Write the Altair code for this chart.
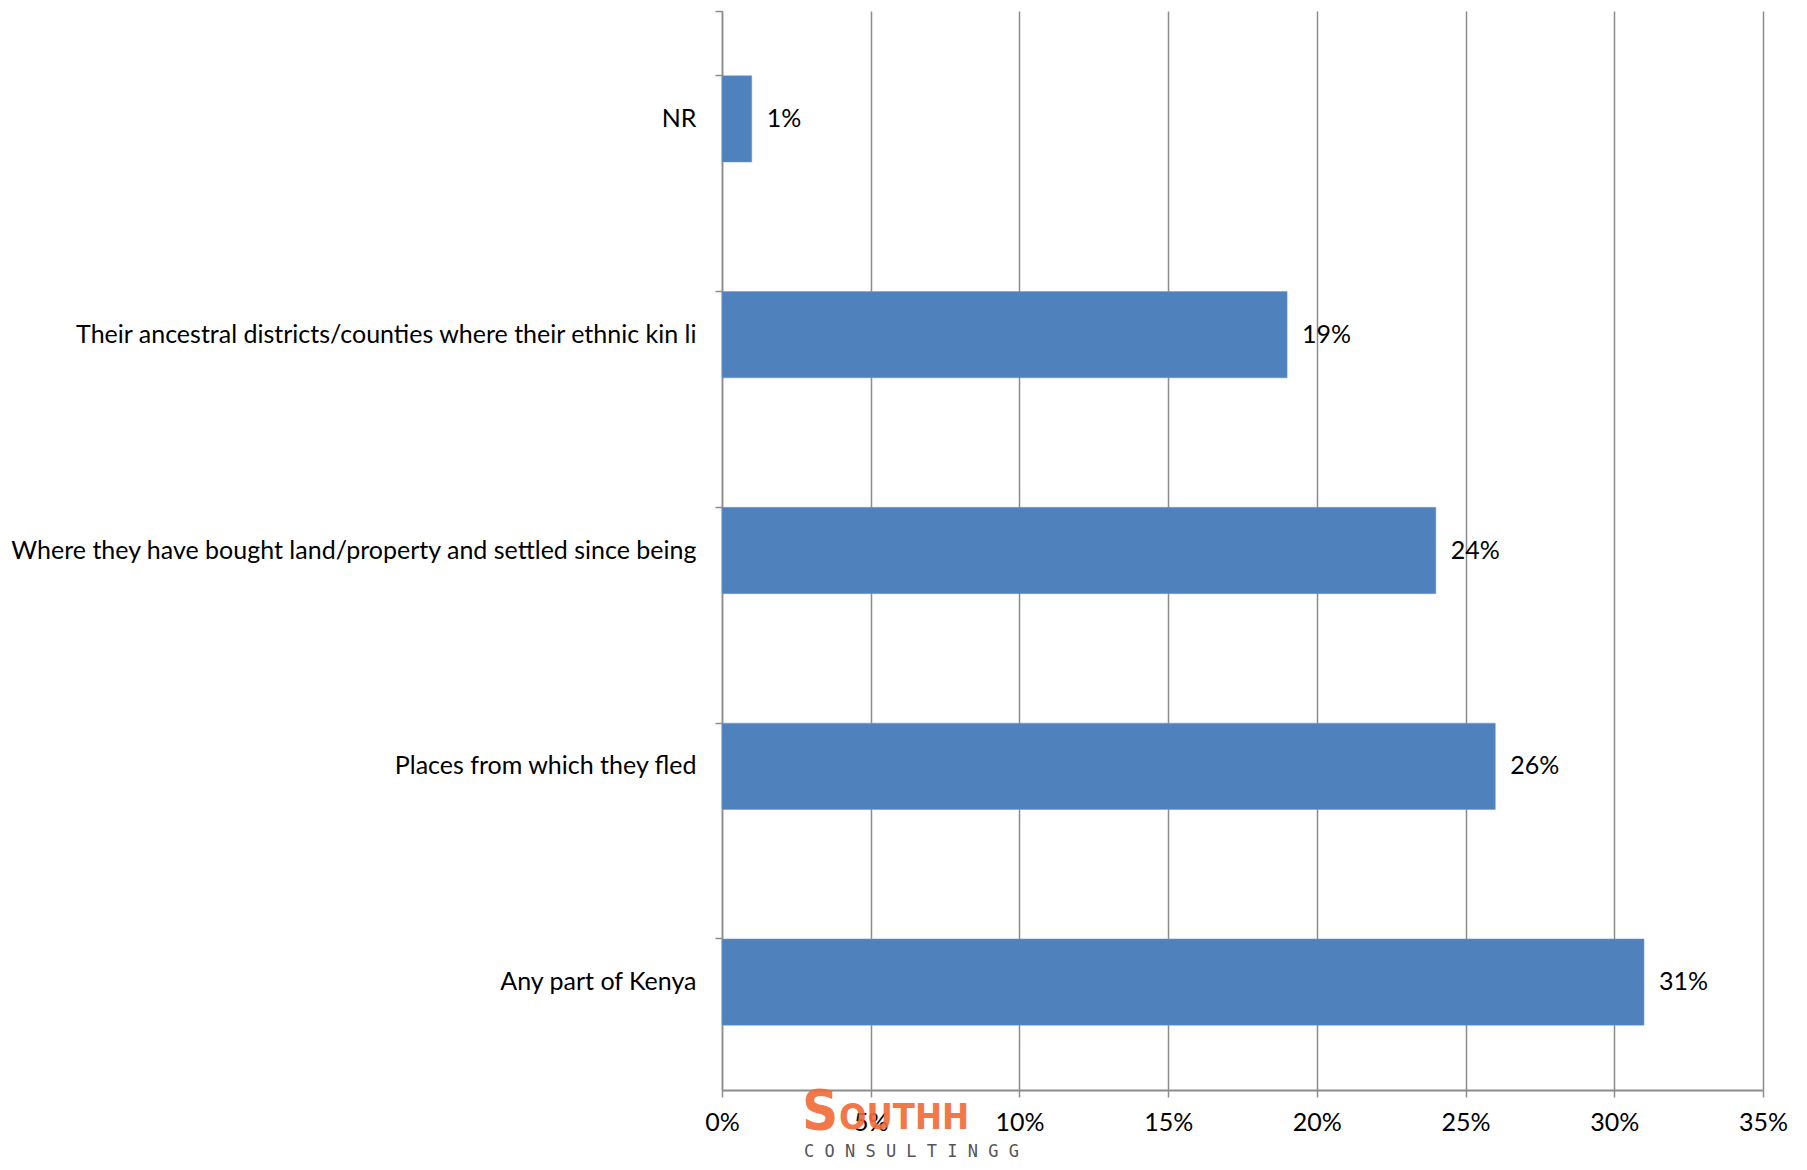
import altair as alt
import pandas as pd

categories = [
    "NR",
    "Their ancestral districts/counties where their ethnic kin li",
    "Where they have bought land/property and settled since being",
    "Places from which they fled",
    "Any part of Kenya",
]
values = [0.01, 0.19, 0.24, 0.26, 0.31]

df = pd.DataFrame({"category": categories, "value": values})

FONT = "Lato"
FS = 25
GRAY = "#8c8c8c"

base = alt.Chart(df).encode(
    y=alt.Y(
        "category:N",
        sort=categories,
        scale=alt.Scale(paddingInner=0.6, paddingOuter=0.3),
        axis=alt.Axis(
            title=None,
            grid=False,
            domainColor=GRAY,
            domainWidth=1.5,
            tickColor=GRAY,
            tickWidth=1.5,
            tickSize=7,
            bandPosition=0,
            tickExtra=True,
            labelPadding=19,
            labelFont=FONT,
            labelFontSize=FS,
            labelColor="#000000",
            labelLimit=1000,
        ),
    ),
)

bars = base.mark_bar(color="#4F81BD", stroke="#6f9bd1", strokeWidth=0.5).encode(
    x=alt.X(
        "value:Q",
        scale=alt.Scale(domain=[0, 0.35], nice=False),
        axis=alt.Axis(
            title=None,
            format=".0%",
            values=[0, 0.05, 0.10, 0.15, 0.20, 0.25, 0.30, 0.35],
            grid=True,
            gridColor=GRAY,
            gridWidth=1.5,
            domainColor=GRAY,
            domainWidth=2,
            tickColor=GRAY,
            tickWidth=1.5,
            tickSize=7,
            labelPadding=13,
            labelFlush=False,
            labelFont=FONT,
            labelFontSize=FS,
            labelColor="#000000",
        ),
    )
)

labels = base.mark_text(
    align="left", baseline="middle", dx=15, font=FONT, fontSize=FS, color="#000000"
).encode(
    x="value:Q",
    text=alt.Text("value:Q", format=".0%"),
)

logo_df = pd.DataFrame({"s": ["S"], "a": ["OUTHH"], "b": ["C O N S U L T I N G G"]})
logo0 = alt.Chart(logo_df).mark_text(
    align="left", baseline="alphabetic", font="DejaVu Sans Condensed", fontSize=56,
    fontWeight="bold", color="#F26A36", opacity=0.9
).encode(x=alt.value(80), y=alt.value(1118), text="s:N")
logo1 = alt.Chart(logo_df).mark_text(
    align="left", baseline="alphabetic", font="DejaVu Sans Condensed", fontSize=36,
    fontWeight="bold", color="#F26A36", opacity=0.9
).encode(x=alt.value(117), y=alt.value(1118), text="a:N")
logo2 = alt.Chart(logo_df).mark_text(
    align="left", baseline="middle", font="DejaVu Sans Mono", fontSize=17,
    color="#555555"
).encode(x=alt.value(82), y=alt.value(1141), text="b:N")

chart = (
    alt.layer(logo0, logo1, logo2, bars, labels)
    .properties(
        width=1041,
        height=1079,
        autosize=alt.AutoSizeParams(type="none"),
        padding={"left": 714, "top": 3, "right": 30, "bottom": 70},
        view=alt.ViewBackground(stroke=None, strokeWidth=0),
    )
    .configure_view(stroke=None, strokeWidth=0)
    .configure(background="white")
)

chart.save("out.html", embed_options={"renderer": "svg", "actions": False})
